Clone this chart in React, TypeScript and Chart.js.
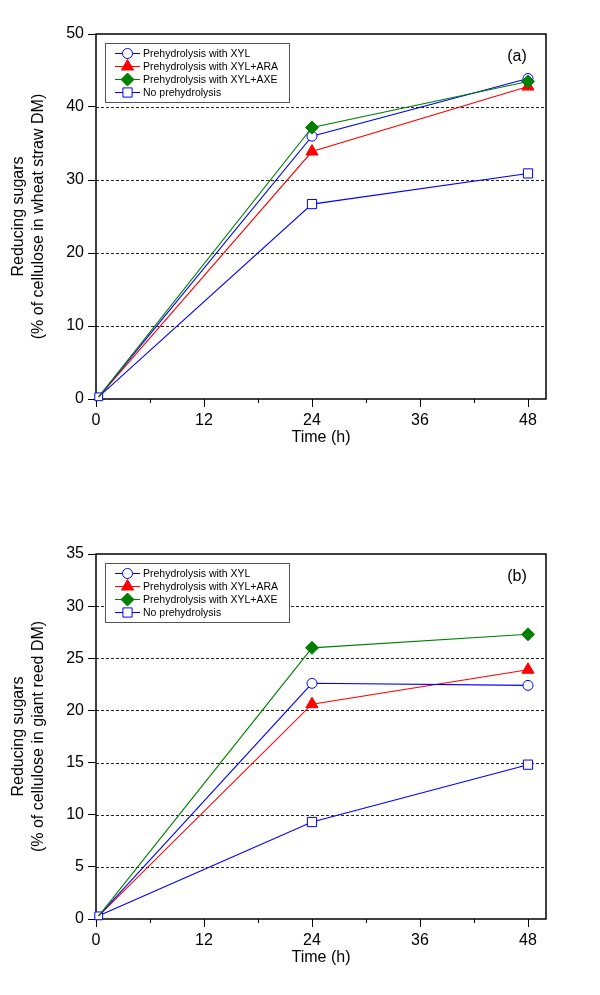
import React, { useEffect, useRef } from "react";
import { Chart, registerables } from "chart.js";
Chart.register(...registerables);

const times = [0.3, 24, 48];
const seriesNames = [
  "Prehydrolysis with XYL",
  "Prehydrolysis with XYL+ARA",
  "Prehydrolysis with XYL+AXE",
  "No prehydrolysis",
];
const wheatXYL = [0.3, 36.0, 43.9];
const wheatARA = [0.3, 33.9, 42.8];
const wheatAXE = [0.3, 37.2, 43.5];
const wheatNone = [0.3, 26.7, 30.9];
const reedXYL = [0.3, 22.6, 22.4];
const reedARA = [0.3, 20.6, 23.9];
const reedAXE = [0.3, 26.0, 27.3];
const reedNone = [0.3, 9.3, 14.8];
const xMajorStep = 12;
const xMinorTicks = [6, 18, 30, 42];
const xTitle = "Time (h)";
const yTitleA = ["Reducing sugars", "(% of cellulose in wheat straw DM)"];
const yTitleB = ["Reducing sugars", "(% of cellulose in giant reed DM)"];

const FONT = "'Liberation Sans', Arial, sans-serif";
const colors = ["#0000ff", "#ff0000", "#008000", "#0000ff"];
const shapes = ["circle", "triangle", "rectRot", "rect"];
const radii = [5, 7, 6.5, 6.5];
const originRadii = [0, 0, 0, 5.5];
const fills = ["#ffffff", "#ff0000", "#008000", "#ffffff"];
const orders = [2, 3, 1, 4];

function drawMarker(ctx: CanvasRenderingContext2D, shape: string, x: number, y: number, r: number, fill: string, stroke: string) {
  ctx.beginPath();
  if (shape === "circle") {
    ctx.arc(x, y, r, 0, Math.PI * 2);
  } else if (shape === "triangle") {
    for (let i = 0; i < 3; i++) {
      const a = (i * 2 * Math.PI) / 3;
      const px = x + Math.sin(a) * r;
      const py = y - Math.cos(a) * r;
      if (i === 0) ctx.moveTo(px, py);
      else ctx.lineTo(px, py);
    }
    ctx.closePath();
  } else if (shape === "rectRot") {
    ctx.moveTo(x, y - r);
    ctx.lineTo(x + r, y);
    ctx.lineTo(x, y + r);
    ctx.lineTo(x - r, y);
    ctx.closePath();
  } else {
    const s = r * Math.SQRT1_2;
    ctx.rect(x - s, y - s, 2 * s, 2 * s);
  }
  ctx.fillStyle = fill;
  ctx.fill();
  ctx.strokeStyle = stroke;
  ctx.lineWidth = 1;
  ctx.stroke();
}

function makeDecor(label: string) {
  return {
    id: "decor",
    beforeDatasetsDraw(chart: any) {
      const { ctx, chartArea: ca, scales } = chart;
      const y = scales.y;
      const x = scales.x;
      ctx.save();
      ctx.strokeStyle = "#222";
      ctx.lineWidth = 1;
      ctx.setLineDash([3, 2]);
      y.ticks.forEach((t: any) => {
        if (t.value > y.min && t.value < y.max) {
          const py = Math.round(y.getPixelForValue(t.value)) + 0.5;
          ctx.beginPath();
          ctx.moveTo(ca.left, py);
          ctx.lineTo(ca.right, py);
          ctx.stroke();
        }
      });
      ctx.setLineDash([]);
      ctx.strokeStyle = "#000";
      xMinorTicks.forEach((v) => {
        const px = Math.round(x.getPixelForValue(v)) + 0.5;
        ctx.beginPath();
        ctx.moveTo(px, ca.bottom);
        ctx.lineTo(px, ca.bottom + 4);
        ctx.stroke();
      });
      ctx.lineWidth = 1.5;
      ctx.strokeRect(ca.left, ca.top, ca.right - ca.left, ca.bottom - ca.top);
      ctx.restore();
    },
    afterDatasetsDraw(chart: any) {
      const { ctx, chartArea: ca } = chart;
      ctx.save();
      const bx = ca.left + 9;
      const by = ca.top + 9;
      const bw = 184;
      const bh = 59;
      ctx.fillStyle = "#fff";
      ctx.fillRect(bx, by, bw, bh);
      ctx.strokeStyle = "#555";
      ctx.lineWidth = 1;
      ctx.strokeRect(bx + 0.5, by + 0.5, bw, bh);
      ctx.font = `10.5px ${FONT}`;
      ctx.textBaseline = "middle";
      ctx.textAlign = "left";
      seriesNames.forEach((name, i) => {
        const ry = by + 10 + i * 13;
        ctx.strokeStyle = colors[i];
        ctx.lineWidth = 1;
        ctx.beginPath();
        ctx.moveTo(bx + 10, ry + 0.5);
        ctx.lineTo(bx + 35, ry + 0.5);
        ctx.stroke();
        drawMarker(ctx, shapes[i], bx + 22.5, ry + 0.5, radii[i], fills[i], colors[i]);
        ctx.fillStyle = "#000";
        ctx.fillText(name, bx + 38, ry + 1);
      });
      ctx.font = `16px ${FONT}`;
      ctx.textAlign = "center";
      ctx.fillStyle = "#000";
      ctx.fillText(label, ca.right - 29, ca.top + 23);
      ctx.restore();
    },
  };
}

function buildConfig(series: number[][], yMax: number, yStep: number, yTitle: string[], label: string): any {
  return {
    type: "line",
    data: {
      datasets: series.map((vals, i) => ({
        label: seriesNames[i],
        data: vals.map((v, j) => ({ x: times[j], y: v })),
        borderColor: colors[i],
        backgroundColor: fills[i],
        pointBackgroundColor: fills[i],
        pointBorderColor: colors[i],
        pointStyle: shapes[i],
        pointRadius: vals.map((_, j) => (j === 0 ? originRadii[i] : radii[i])),
        pointBorderWidth: 1,
        borderWidth: 1.1,
        tension: 0,
        order: orders[i],
        clip: false,
      })),
    },
    options: {
      responsive: false,
      animation: false,
      devicePixelRatio: 1,
      layout: { padding: { top: 34, right: 54, left: 0, bottom: 0 } },
      plugins: { legend: { display: false }, tooltip: { enabled: false } },
      scales: {
        x: {
          type: "linear",
          min: 0,
          max: 50,
          afterFit: (s: any) => {
            s.height = 71;
          },
          ticks: {
            stepSize: xMajorStep,
            includeBounds: false,
            color: "#000",
            padding: 4,
            font: { family: FONT, size: 16 },
            maxRotation: 0,
          },
          grid: { drawOnChartArea: false, drawTicks: true, tickLength: 8, color: "#000" },
          border: { display: false },
          title: {
            display: true,
            text: xTitle,
            color: "#000",
            font: { family: FONT, size: 16, lineHeight: 1.25 },
            padding: { top: 0, bottom: 22 },
          },
        },
        y: {
          type: "linear",
          min: 0,
          max: yMax,
          afterFit: (s: any) => {
            s.width = 96;
          },
          ticks: {
            stepSize: yStep,
            color: "#000",
            padding: 4,
            font: { family: FONT, size: 16 },
          },
          grid: { drawOnChartArea: false, drawTicks: true, tickLength: 8, color: "#000" },
          border: { display: false },
          title: {
            display: true,
            text: yTitle,
            color: "#000",
            font: { family: FONT, size: 16, lineHeight: 1.25 },
            padding: { top: 9, bottom: 0 },
          },
        },
      },
    },
    plugins: [makeDecor(label)],
  };
}

export default function App() {
  const refA = useRef<HTMLCanvasElement>(null);
  const refB = useRef<HTMLCanvasElement>(null);
  useEffect(() => {
    const a = new Chart(
      refA.current as HTMLCanvasElement,
      buildConfig([wheatXYL, wheatARA, wheatAXE, wheatNone], 50, 10, yTitleA, "(a)")
    );
    const b = new Chart(
      refB.current as HTMLCanvasElement,
      buildConfig([reedXYL, reedARA, reedAXE, reedNone], 35, 5, yTitleB, "(b)")
    );
    return () => {
      a.destroy();
      b.destroy();
    };
  }, []);
  return (
    <div style={{ position: "absolute", left: 0, top: 0, width: 600, height: 995, background: "#fff" }}>
      <canvas ref={refA} width={600} height={470} style={{ position: "absolute", left: 0, top: 0, width: 600, height: 470 }} />
      <canvas ref={refB} width={600} height={470} style={{ position: "absolute", left: 0, top: 520, width: 600, height: 470 }} />
    </div>
  );
}
